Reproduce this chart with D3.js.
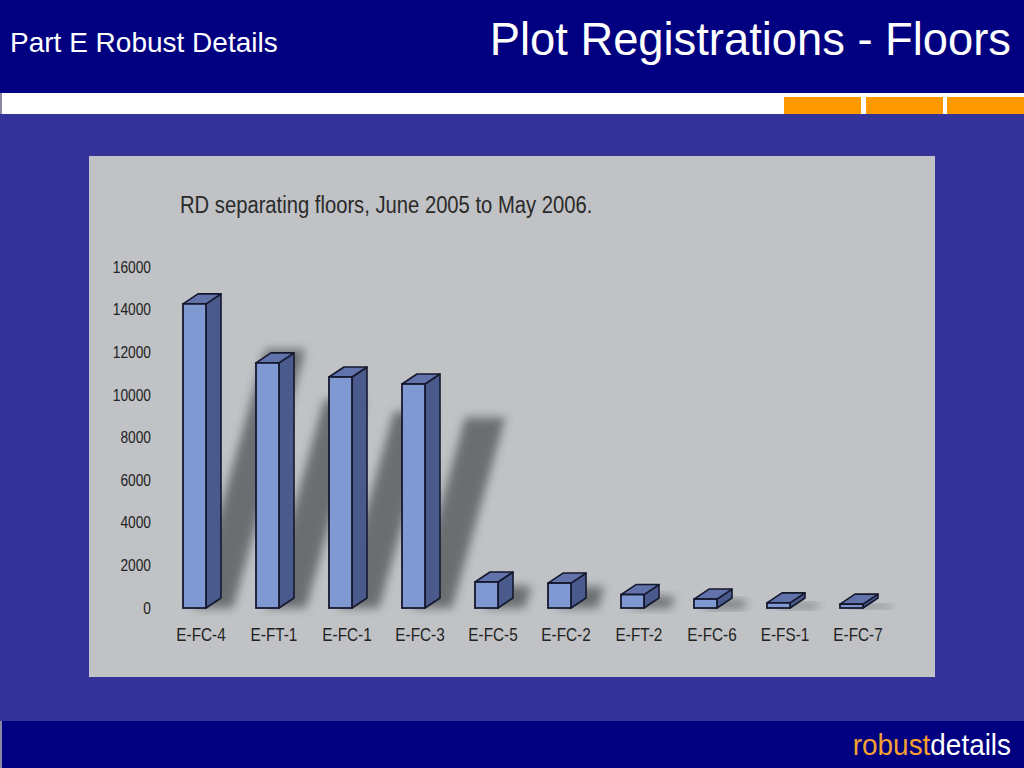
<!DOCTYPE html>
<html><head><meta charset="utf-8">
<script src="https://cdn.jsdelivr.net/npm/d3@7"></script>
<style>html,body{margin:0;padding:0;background:#333399;}svg{display:block;}</style>
</head><body>
<svg id="c" width="1024" height="768"></svg>
<script>
const categories = ["E-FC-4","E-FT-1","E-FC-1","E-FC-3","E-FC-5","E-FC-2","E-FT-2","E-FC-6","E-FS-1","E-FC-7"];
const values = [14270, 11500, 10840, 10510, 1220, 1170, 630, 420, 240, 180];
const yTicks = [0, 2000, 4000, 6000, 8000, 10000, 12000, 14000, 16000];
const headerLeft = "Part E Robust Details";
const headerTitle = "Plot Registrations - Floors";
const chartTitle = "RD separating floors, June 2005 to May 2006.";

const svg = d3.select("#c");
const font = "Liberation Sans, Arial, sans-serif";

// emulate a narrower face by compressing the natural text width
function condense(sel, ratio){
  sel.each(function(){
    const w = this.getComputedTextLength();
    d3.select(this).attr("textLength", w*ratio).attr("lengthAdjust","spacingAndGlyphs");
  });
}

// page background & chrome
svg.append("rect").attr("x",0).attr("y",0).attr("width",1024).attr("height",768).attr("fill","#333399");
svg.append("rect").attr("x",0).attr("y",0).attr("width",1024).attr("height",93).attr("fill","#000080");
svg.append("rect").attr("x",0).attr("y",93).attr("width",1024).attr("height",21).attr("fill","#ffffff");
svg.append("rect").attr("x",0).attr("y",93).attr("width",2).attr("height",21).attr("fill","#8888a0");
[[784,861],[866,943],[947,1024]].forEach(([a,b])=>{
  svg.append("rect").attr("x",a).attr("y",97).attr("width",b-a).attr("height",17).attr("fill","#ff9900");
});
svg.append("rect").attr("x",0).attr("y",721).attr("width",1024).attr("height",47).attr("fill","#000080");
svg.append("rect").attr("x",0).attr("y",721).attr("width",2).attr("height",47).attr("fill","#8888a0");

svg.append("text").attr("x",10).attr("y",52).attr("fill","#fff").attr("font-family",font).attr("font-size",28)
  .text(headerLeft).call(condense, 1.0);
svg.append("text").attr("x",1011).attr("y",55).attr("text-anchor","end").attr("fill","#fff").attr("font-family",font).attr("font-size",46)
  .text(headerTitle).call(condense, 0.985);

const foot = svg.append("text").attr("x",1011).attr("y",755).attr("text-anchor","end").attr("font-family",font).attr("font-size",30);
foot.append("tspan").attr("fill","#f5a030").text("robust");
foot.append("tspan").attr("fill","#ffffff").text("details");
foot.call(condense, 0.93);

// chart panel
svg.append("rect").attr("x",89).attr("y",156).attr("width",846).attr("height",521).attr("fill","#c0c2c5");
svg.append("text").attr("x",180).attr("y",213).attr("fill","#2a2a2a").attr("font-family",font).attr("font-size",23.5)
  .text(chartTitle).call(condense, 0.86);

const y = d3.scaleLinear().domain([0,16000]).range([608,267]);
const x = d3.scaleBand().domain(categories).range([164.5,894.5]);

const yAxis = svg.append("g").attr("transform","translate(151,0)")
  .call(d3.axisLeft(y).tickValues(yTicks).tickSize(0).tickPadding(0).tickFormat(d3.format("d")));
yAxis.select(".domain").remove();
yAxis.selectAll("text").attr("font-family",font).attr("font-size",16).attr("fill","#222").call(condense, 0.86);

const xAxis = svg.append("g").attr("transform","translate(0,628)")
  .call(d3.axisBottom(x).tickSize(0).tickPadding(0));
xAxis.select(".domain").remove();
xAxis.selectAll("text").attr("font-family",font).attr("font-size",18).attr("fill","#222").attr("dy","0.71em").call(condense, 0.85);

// shadow filter
const defs = svg.append("defs");
defs.append("filter").attr("id","blur").attr("x","-50%").attr("y","-50%").attr("width","200%").attr("height","200%")
  .append("feGaussianBlur").attr("stdDeviation",5);

const fw = 23, dx = 15, dy = 10, base = y(0);
const data = categories.map((c,i)=>({c, v: values[i]}));

// shadows
svg.append("g").selectAll("path").data(data).join("path")
  .attr("d", d=>{
    const xl = x(d.c) + x.bandwidth()/2 - 18;
    const h = base - y(d.v);
    const sh = h*0.85, sx = sh*0.28;
    const x0 = xl + 10, x1 = xl + 50;
    return `M${x0},${base} L${x1},${base} L${x1+sx},${base-sh} L${x0+sx},${base-sh} Z`;
  })
  .attr("fill","#505256").attr("opacity",0.75).attr("filter","url(#blur)");

const bars = svg.append("g").selectAll("g").data(data).join("g");
bars.each(function(d){
  const g = d3.select(this);
  const xl = x(d.c) + x.bandwidth()/2 - 18;
  const xr = xl + fw, yt = y(d.v);
  const stroke = "#15192e";
  g.append("path").attr("d",`M${xr},${yt} L${xr+dx},${yt-dy} L${xr+dx},${base-dy} L${xr},${base} Z`)
    .attr("fill","#4a5a8c").attr("stroke",stroke).attr("stroke-width",1.6).attr("stroke-linejoin","round");
  g.append("path").attr("d",`M${xl},${yt} L${xl+dx},${yt-dy} L${xr+dx},${yt-dy} L${xr},${yt} Z`)
    .attr("fill","#6272aa").attr("stroke",stroke).attr("stroke-width",1.6).attr("stroke-linejoin","round");
  g.append("rect").attr("x",xl).attr("y",yt).attr("width",fw).attr("height",base-yt)
    .attr("fill","#8099d2").attr("stroke",stroke).attr("stroke-width",1.8);
});
</script>
</body></html>
